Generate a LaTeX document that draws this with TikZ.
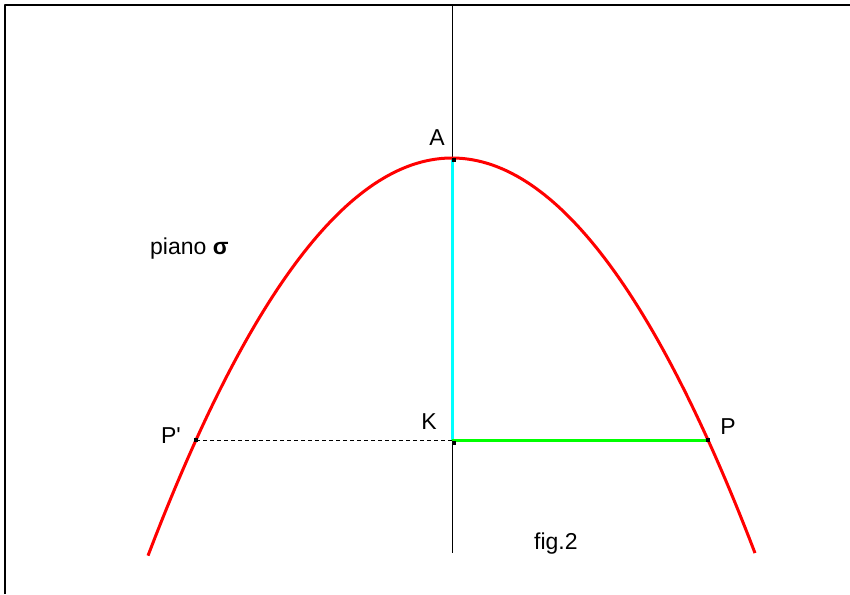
\documentclass[tikz,border=0pt]{standalone}
\usepackage{fontspec}
\setmainfont{Liberation Sans}
\newfontfamily\plainsans[Ligatures=TeXOff]{Liberation Sans}
\usetikzlibrary{positioning,calc}

\definecolor{curvered}{RGB}{255,0,0}
\definecolor{axiscyan}{RGB}{0,255,255}
\definecolor{seggreen}{RGB}{0,255,0}

\tikzset{
  lbl/.style={inner sep=0pt, font=\fontsize{23}{23}\selectfont},
  pt/.style={fill=black, minimum size=4pt, inner sep=0pt},
}

\begin{document}
\begin{tikzpicture}[line cap=butt, line join=round, x=1pt, y=-1pt]
  \useasboundingbox (0,0) rectangle (850,594);
  % frame, only top and left edges
  \draw[line width=2.5pt] (5,594) -- (5,5) -- (850,5);

  % axis
  \coordinate (top) at (452,5);
  \coordinate (bot) at (452,553);
  \draw[line width=1pt] (top) -- (bot);

  % points
  \coordinate (A) at (452,158);
  \coordinate (K) at (452,440);
  \coordinate (P) at (708,440);
  \coordinate (P') at (196,440);

  % segments
  \draw[axiscyan, line width=3pt] (A) -- (K);
  \draw[seggreen, line width=3pt] (K) -- (P);
  \draw[dashed, line width=1pt, dash pattern=on 4pt off 3pt] (P') -- (K);

  % the parabola
  \draw[curvered, line width=3pt] plot[domain=-304:303, samples=90, smooth]
    ({452+\x},{158+282*(\x/256)^2});

  % marks
  \node[pt] at ($(A)+(2,2)$) {};
  \node[pt] at ($(K)+(2,3)$) {};
  \node[pt] at (P) {};
  \node[pt] at (P') {};

  % labels
  \node[lbl] (lA) at (437,138) {A};
  \node[lbl] (lK) at (429,422) {K};
  \node[lbl] (lP) at (728,427) {P};
  \node[lbl] (lP') at (171,436) {\plainsans P'};
  \node[lbl, anchor=base west] (piano) at (150,254) {piano \textbf{σ}};
  \node[lbl, anchor=base west] (fig) at (534,549) {fig.2};
\end{tikzpicture}
\end{document}
